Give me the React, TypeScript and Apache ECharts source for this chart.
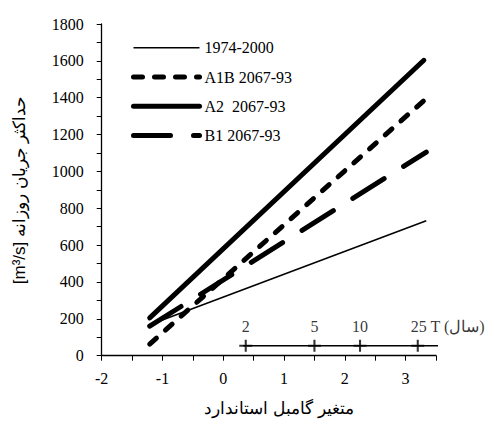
import React, { useEffect, useRef } from "react";
import * as echarts from "echarts";

const FONT = "Liberation Serif";

const seriesNames = ["1974-2000", "A1B 2067-93", "A2  2067-93", "B1 2067-93"];
const obsLine = [[-1.21, 168], [3.34, 732]];
const a1bLine = [[-1.21, 63], [3.33, 1393]];
const a2Line = [[-1.21, 205], [3.3, 1603]];
const b1Line = [[-1.21, 160], [3.34, 1105]];

const returnPeriods = ["2", "5", "10", "25"];
const returnPeriodX = [0.37, 1.5, 2.25, 3.2];
const returnAxisY = 54;
const returnAxisExtent = [0.33, 3.55];

const xTitle = "متغیر گامبل استاندارد";
const yTitle = "[m³/s] حداکثر جریان روزانه";
const periodUnit = "T (سال)";

export default function App() {
  const ref = useRef<HTMLDivElement>(null);
  useEffect(() => {
    if (!ref.current) return;
    const chart = echarts.init(ref.current, null, { renderer: "svg" });
    const plus = "path://M4.2,0H5.8V4.2H10V5.8H5.8V10H4.2V5.8H0V4.2H4.2Z";
    const hiddenSym = { color: "#000", opacity: 0 };
    const txt = (size: number) => ({ fontFamily: FONT, fontSize: size, color: "#000" });
    const option: any = {
      animation: false,
      grid: { left: 101.7, right: 58, top: 24, bottom: 72.3 },
      legend: {
        data: seriesNames,
        orient: "vertical",
        left: 126,
        top: 34.7,
        itemWidth: 66,
        itemHeight: 14,
        itemGap: 13.3,
        lineStyle: { width: "inherit" },
        itemStyle: { opacity: 0 },
        textStyle: txt(16),
      },
      xAxis: {
        type: "value",
        min: -2,
        max: 3.5,
        interval: 0.5,
        name: xTitle,
        nameLocation: "middle",
        nameGap: 44,
        nameTextStyle: { fontSize: 17, color: "#000", padding: [0, 0, 0, 20] },
        axisLine: { show: true, onZero: false, lineStyle: { color: "#000", width: 1.3 } },
        axisTick: { show: true, length: 5, lineStyle: { color: "#000", width: 1 } },
        axisLabel: {
          margin: 15,
          ...txt(16),
          formatter: (v: number) => (Number.isInteger(v) ? String(v) : ""),
        },
        splitLine: { show: false },
      },
      yAxis: {
        type: "value",
        min: 0,
        max: 1800,
        interval: 100,
        name: yTitle,
        nameLocation: "middle",
        nameRotate: 90,
        nameGap: 74,
        nameTextStyle: { fontSize: 17, color: "#000" },
        axisLine: { show: true, onZero: false, lineStyle: { color: "#000", width: 1.3 } },
        axisTick: { show: true, length: 5, lineStyle: { color: "#000", width: 1 } },
        axisLabel: {
          margin: 18,
          ...txt(16),
          formatter: (v: number) => (v % 200 === 0 ? String(v) : ""),
        },
        splitLine: { show: false },
      },
      series: [
        {
          name: seriesNames[0],
          type: "line",
          data: obsLine,
          symbol: "none",
          itemStyle: hiddenSym,
          lineStyle: { color: "#000", width: 1.5 },
          z: 4,
        },
        {
          name: seriesNames[1],
          type: "line",
          data: a1bLine,
          symbol: "none",
          itemStyle: hiddenSym,
          lineStyle: { color: "#000", width: 5, type: [9, 12], cap: "round" },
          z: 3,
        },
        {
          name: seriesNames[2],
          type: "line",
          data: a2Line,
          symbol: "none",
          itemStyle: hiddenSym,
          lineStyle: { color: "#000", width: 5, cap: "round" },
          z: 3,
        },
        {
          name: seriesNames[3],
          type: "line",
          data: b1Line,
          symbol: "none",
          itemStyle: hiddenSym,
          lineStyle: { color: "#000", width: 5, type: [37, 23], cap: "round" },
          z: 3,
        },
        {
          name: "returnAxis",
          type: "line",
          data: returnAxisExtent.map((x) => [x, returnAxisY]),
          symbol: "none",
          clip: false,
          lineStyle: { color: "#000", width: 1.3 },
          z: 2,
        },
        {
          name: "returnTicks",
          type: "scatter",
          clip: false,
          symbol: plus,
          symbolSize: [13, 12],
          itemStyle: { color: "#000" },
          data: returnPeriodX.map((x, i) => {
            const last = i === returnPeriodX.length - 1;
            return {
              value: [x, returnAxisY],
              label: last
                ? { formatter: returnPeriods[i] + " " + periodUnit, align: "left", offset: [-7, 0] }
                : { formatter: returnPeriods[i] },
            };
          }),
          label: {
            show: true,
            position: "top",
            distance: 5,
            ...txt(16),
          },
          z: 5,
        },
      ],
    };
    chart.setOption(option);
    return () => chart.dispose();
  }, []);
  return (
    <div
      ref={ref}
      style={{ position: "absolute", left: 0, top: 0, width: 494, height: 428 }}
    />
  );
}
